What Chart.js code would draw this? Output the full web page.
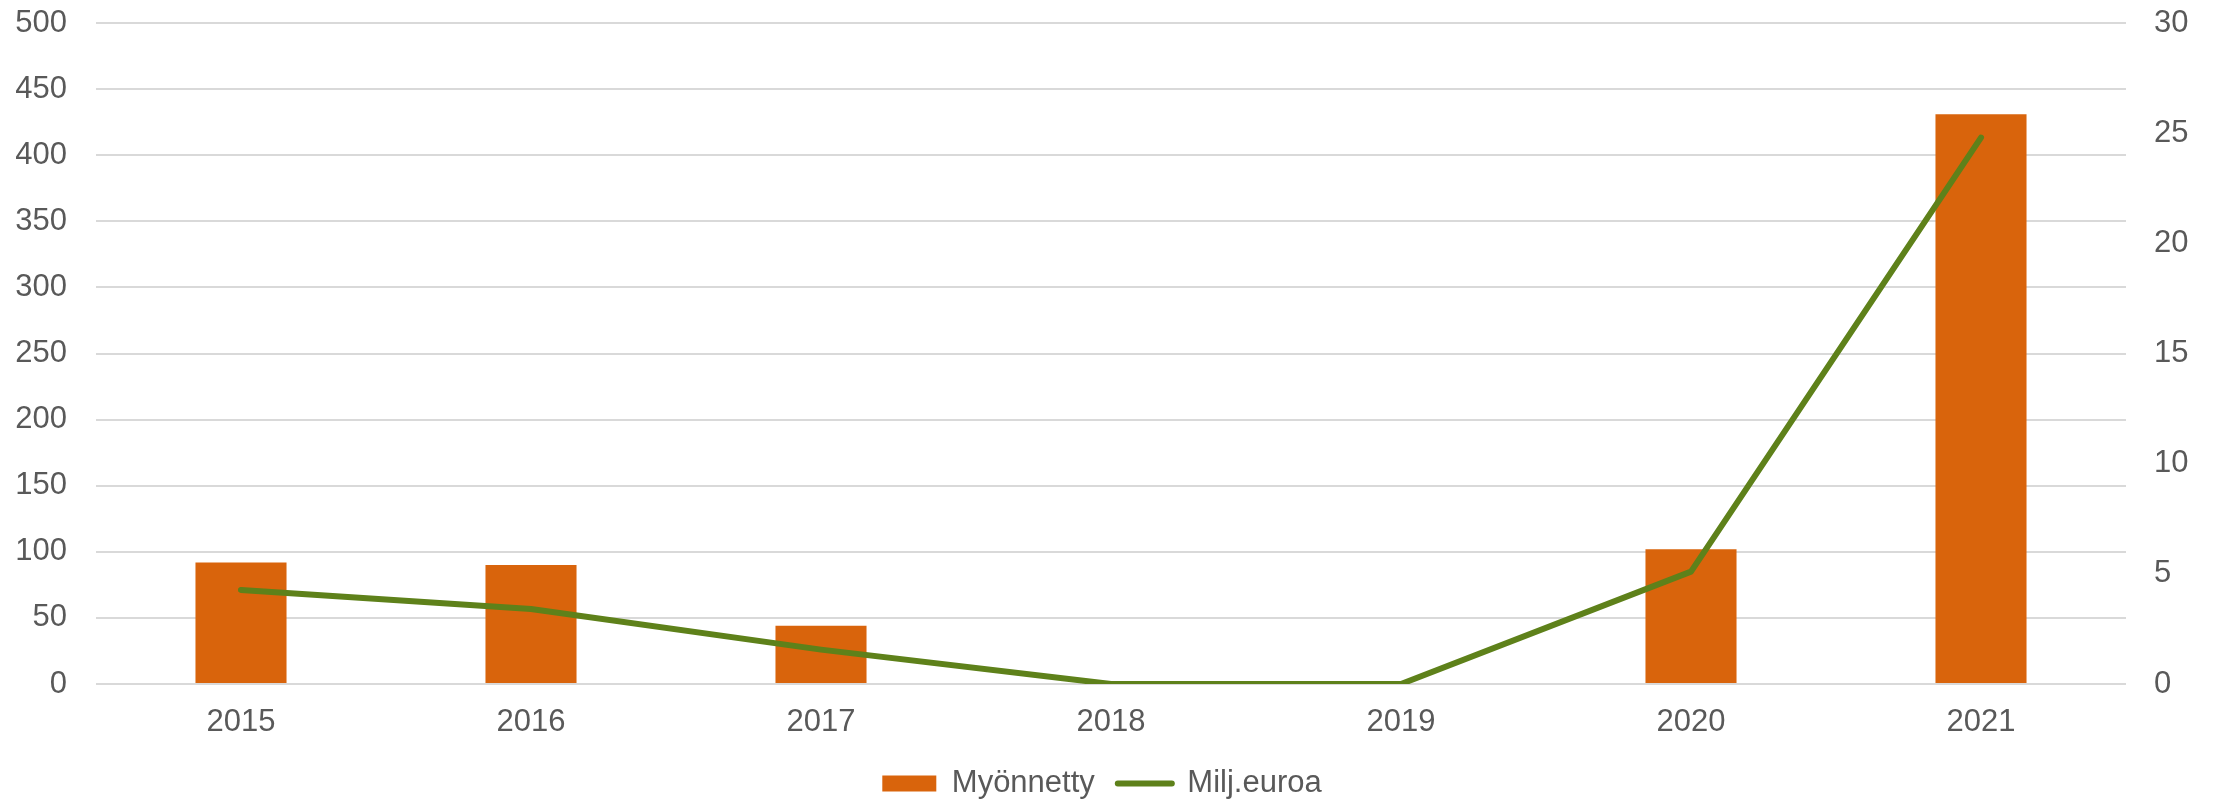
<!DOCTYPE html>
<html>
<head>
<meta charset="utf-8">
<script src="https://cdn.jsdelivr.net/npm/chart.js@4/dist/chart.umd.min.js"></script>
<style>
  html, body { margin: 0; padding: 0; background: #fff; }
  #wrap { width: 2221px; height: 801px; }
</style>
</head>
<body>
<div id="wrap"><canvas id="mainChart"></canvas></div>
<script>
const years = ['2015', '2016', '2017', '2018', '2019', '2020', '2021'];
const myonnetty = [92, 90, 44, 0, 0, 102, 431];
const miljEuroa = [4.27, 3.4, 1.56, 0, 0, 5.1, 24.8];
const leftTicks = [0, 50, 100, 150, 200, 250, 300, 350, 400, 450, 500];
const rightTicks = [0, 5, 10, 15, 20, 25, 30];

const orange = '#D9640C';
const green = '#5E811A';
const textColor = '#595959';
const gridColor = '#D9D9D9';

Chart.defaults.font.family = '"Liberation Sans", Arial, sans-serif';
Chart.defaults.font.size = 31;
Chart.defaults.color = textColor;

const ctx = document.getElementById('mainChart');

new Chart(ctx, {
    type: 'bar',
    data: {
        labels: years,
        datasets: [{
            type: 'line',
            label: 'Milj.euroa',
            data: miljEuroa,
            yAxisID: 'y1',
            borderColor: green,
            backgroundColor: green,
            borderWidth: 6,
            borderJoinStyle: 'round',
            borderCapStyle: 'round',
            pointRadius: 0,
            tension: 0,
            order: 0
        }, {
            label: 'Myönnetty',
            data: myonnetty,
            yAxisID: 'y',
            backgroundColor: orange,
            borderWidth: 0,
            categoryPercentage: 1,
            barPercentage: 0.314,
            order: 1
        }]
    },
    options: {
        responsive: true,
        maintainAspectRatio: false,
        animation: false,
        layout: {
            padding: { top: 23, left: 16, right: 33, bottom: -8 }
        },
        plugins: {
            tooltip: { enabled: false },
            legend: {
                position: 'bottom',
                labels: {
                    usePointStyle: true,
                    pointStyleWidth: 54,
                    boxHeight: 16,
                    padding: 23,
                    font: { size: 31 },
                    color: textColor,
                    generateLabels(chart) {
                        const items = Chart.defaults.plugins.legend.labels.generateLabels(chart);
                        // bar first, line second, like the original
                        items.sort((a, b) => b.datasetIndex - a.datasetIndex);
                        items.forEach(item => {
                            if (item.datasetIndex === 1) {
                                item.pointStyle = 'rect';
                                item.lineWidth = 0;
                            } else {
                                item.pointStyle = 'line';
                                item.lineWidth = 6;
                                item.strokeStyle = green;
                                item.lineCap = 'round';
                            }
                        });
                        return items;
                    }
                }
            }
        },
        scales: {
            x: {
                grid: { display: false, drawTicks: false },
                border: { display: false },
                ticks: { padding: 20, font: { size: 31 }, color: textColor },
                afterFit(axis) {
                    axis.height = 61;
                    axis.paddingLeft = 0;
                    axis.paddingRight = 0;
                }
            },
            y: {
                position: 'left',
                min: 0,
                max: 500,
                afterBuildTicks(axis) {
                    axis.ticks = leftTicks.map(v => ({ value: v }));
                },
                afterFit(axis) {
                    axis.width = 80;
                    axis.paddingTop = 0;
                    axis.paddingBottom = 0;
                },
                grid: { color: gridColor, lineWidth: 2, drawTicks: false },
                border: { display: false },
                ticks: { padding: 29, font: { size: 31 }, color: textColor }
            },
            y1: {
                position: 'right',
                min: 0,
                max: 30,
                afterBuildTicks(axis) {
                    axis.ticks = rightTicks.map(v => ({ value: v }));
                },
                afterFit(axis) {
                    axis.width = 62;
                    axis.paddingTop = 0;
                    axis.paddingBottom = 0;
                },
                grid: { display: false, drawTicks: false },
                border: { display: false },
                ticks: { padding: 28, font: { size: 31 }, color: textColor }
            }
        }
    }
});
</script>
</body>
</html>
